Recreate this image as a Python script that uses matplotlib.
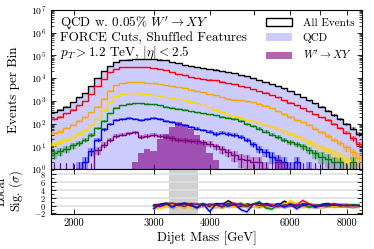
import numpy as np
import matplotlib
matplotlib.use("Agg")
import matplotlib.pyplot as plt
from matplotlib.patches import Patch
from matplotlib.ticker import LogLocator, FixedLocator, FixedFormatter, NullFormatter, MultipleLocator, NullLocator

plt.rcParams.update({
    "font.family": "serif",
    "font.serif": ["cmr10"],
    "mathtext.fontset": "cm",
    "axes.formatter.use_mathtext": True,
    "xtick.direction": "in",
    "ytick.direction": "in",
    "xtick.top": True,
    "ytick.right": True,
    "xtick.labelsize": 7.5,
    "ytick.labelsize": 7,
    "axes.linewidth": 0.8,
})

# binning of the dijet mass histogram (GeV)
edges = np.geomspace(1780, 8650, 51)
centers = np.sqrt(edges[:-1] * edges[1:])

# log10(events per bin), nan = empty bin
log_all = [2.5, 2.6, 2.75, 2.95, 3.15, 3.35, 3.65, 4.0, 4.3, 4.55,
           4.72, 4.78, 4.82, 4.84, 4.85, 4.85, 4.84, 4.82, 4.78, 4.72,
           4.65, 4.58, 4.54, 4.5, 4.46, 4.42, 4.38, 4.33, 4.28, 4.22,
           4.15, 4.08, 4.0, 3.92, 3.84, 3.75, 3.65, 3.55, 3.43, 3.3,
           3.17, 3.03, 2.89, 2.74, 2.57, 2.38, 2.2, 2.0, 1.78, 1.55]
log_red = [2.2, 2.3, 2.45, 2.6, 2.8, 3.0, 3.3, 3.65, 3.95, 4.25,
           4.42, 4.48, 4.5, 4.5, 4.5, 4.48, 4.45, 4.4, 4.34, 4.27,
           4.19, 4.12, 4.06, 4.02, 3.98, 3.94, 3.9, 3.85, 3.8, 3.74,
           3.67, 3.6, 3.52, 3.44, 3.36, 3.26, 3.15, 3.04, 2.92, 2.8,
           2.67, 2.54, 2.41, 2.28, 2.15, 2.0, 1.8, 1.6, 1.35, 1.1]
log_orange = [1.58, 1.65, 1.8, 1.95, 2.1, 2.3, 2.5, 2.75, 3.1, 3.45,
              3.7, 3.8, 3.83, 3.83, 3.82, 3.8, 3.77, 3.73, 3.69, 3.65,
              3.6, 3.56, 3.5, 3.44, 3.38, 3.31, 3.24, 3.17, 3.1, 3.06,
              3.02, 2.98, 2.94, 2.87, 2.78, 2.68, 2.55, 2.42, 2.3, 2.16,
              2.05, 1.93, 1.78, 1.62, 1.45, 1.3, 1.15, 0.95, 0.75, 0.5]
log_gold = [1.1, 1.2, 1.3, 1.4, 1.55, 1.72, 1.95, 2.2, 2.6, 2.95,
            3.2, 3.3, 3.33, 3.33, 3.32, 3.3, 3.27, 3.23, 3.18, 3.13,
            3.08, 3.03, 2.97, 2.9, 2.82, 2.73, 2.62, 2.5, 2.4, 2.32,
            2.25, 2.18, 2.1, 2.03, 1.95, 1.87, 1.78, 1.66, 1.55, 1.44,
            1.33, 1.2, 1.08, 0.95, 0.85, 0.7, 0.55, 0.4, 0.3, np.nan]
log_green = [0.7, 0.8, 0.9, 1.05, 1.15, 1.3, 1.5, 1.8, 2.1, 2.45,
             2.7, 2.82, 2.88, 2.9, 2.9, 2.88, 2.85, 2.8, 2.75, 2.7,
             2.65, 2.6, 2.55, 2.5, 2.46, 2.41, 2.36, 2.31, 2.26, 2.2,
             2.1, 2.0, 1.9, 1.78, 1.65, 1.52, 1.4, 1.3, 1.2, 1.1,
             1.0, 0.85, 0.7, 0.55, 0.45, 0.3, 0.3, np.nan, 0.3, np.nan]
log_blue = [np.nan, np.nan, np.nan, np.nan, 0.0, 0.3, 0.8, 1.3, 1.75, 2.0,
            2.15, 2.2, 2.25, 2.22, 2.17, 2.2, 2.25, 2.2, 2.12, 2.07,
            2.0, 1.93, 1.85, 1.78, 1.72, 1.65, 1.55, 1.6, 1.55, 1.5,
            1.42, 1.3, 1.1, 0.9, 0.75, 0.55, 0.4, 0.3, 0.0, 0.3,
            np.nan, 0.0, np.nan, np.nan, np.nan, np.nan, np.nan, np.nan, np.nan, np.nan]
log_purple = [np.nan, np.nan, np.nan, np.nan, np.nan, np.nan, np.nan, 0.84, 1.06, 1.3,
              1.45, 1.52, 1.58, 1.62, 1.42, 1.45, 1.5, 1.45, 1.4, 1.35,
              1.3, 1.28, 1.25, 1.22, 1.18, 1.12, 1.0, 0.88, 0.75, 0.6,
              0.45, 0.4, 0.3, 0.3, 0.0, np.nan, 0.3, 0.0, np.nan, np.nan,
              np.nan, np.nan, np.nan, np.nan, np.nan, np.nan, np.nan, np.nan, np.nan, np.nan]

# injected signal, events per bin
signal = [0, 0, 0, 0, 0, 0, 0, 0, 0, 0,
          0, 0, 0, 2, 5, 8, 6, 20, 35, 70,
          112, 90, 56, 32, 14, 5, 2.5, 0, 0, 0,
          0, 0, 0, 0, 0, 0, 0, 0, 0, 0,
          0, 0, 0, 0, 0, 0, 0, 0, 0, 0]

# local significance for bins above 3 TeV (bin 16 onwards)
sig_start = 16
sig_black = [0.1, 0.3, 0.6, 0.4, 0.2, 0.5, 0.3, 0.1, 0.4, -0.2, 0.5, 0.2, 1.2, 0.3, -0.2, 0.4, 0.1,
             -0.3, 0.5, 0.2, 0.0, 1.1, 0.3, -0.1, 0.4, 0.2, -0.4, 0.3, 0.5, 0.0, 0.3, 0.1, -0.2, 0.2]
sig_red = [0.0, 0.2, -0.1, 0.3, 0.5, 0.2, -0.2, 0.4, 0.3, 0.1, -0.3, 0.4, 0.2, 0.6, 0.1, -0.2, 0.3,
           0.5, -0.1, 0.2, 0.4, 0.0, 0.3, 0.2, 1.3, 0.4, 0.1, -0.3, 0.2, 0.5, 0.1, 0.3, -0.2, 0.1]
sig_orange = [-0.2, -0.5, 0.1, -0.3, 0.2, -0.4, 0.0, 0.3, -0.2, 0.1, -0.5, 0.2, 0.0, -0.3, 0.3, 0.1, -0.2,
              0.2, -0.4, 0.1, 0.3, -0.1, 1.0, 0.2, -0.3, 0.4, 0.0, -0.2, 0.3, -0.4, 0.1, -0.3, 0.2, -0.5]
sig_gold = [-0.4, -0.7, -0.3, 0.2, -0.5, -0.1, -0.6, 0.1, -0.3, 0.3, -0.2, -0.5, 0.2, -0.1, 0.4, -0.3, 0.0,
            -0.2, 0.3, -0.5, 0.1, 0.2, 1.3, 0.5, -0.4, 0.0, 0.3, -0.6, 0.2, -0.2, 0.4, 0.1, -0.3, 0.2]
sig_green = [-0.3, 0.0, 0.4, -0.2, 0.3, 0.5, 0.1, -0.3, 0.4, 0.0, 0.2, -0.4, 0.3, 0.1, 0.6, -0.2, 0.3,
             1.0, -0.6, -0.9, 0.2, -0.3, 0.4, 0.0, 0.3, -0.5, 0.1, 0.2, -0.2, 0.3, 0.0, 0.1, 0.2, 0.1]
sig_blue = [-0.8, 0.2, 0.5, -0.4, 0.3, 0.6, 0.0, -0.6, 0.4, -1.5, 0.3, 0.5, -0.2, 0.4, -1.0, -1.6, 0.3,
            0.6, 0.2, -0.2, 0.5, -0.4, 0.3, -0.8, 0.2, 0.4, -0.3, 0.1, 0.3, 0.0, 0.2, -0.1, 0.1, 0.0]
sig_purple = [0.2, -0.3, 0.3, 0.6, 0.1, -0.2, 0.5, 0.3, -0.1, 0.4, 0.2, -0.3, 0.5, 0.1, 0.3, -0.2, 0.4,
              0.0, 0.3, 0.1, -0.3, 0.2, 0.0, 0.3, -0.1, 0.2, 0.1, -0.2, 0.1, 0.2, 0.0, 0.1, -0.1, 0.0]

curves = [(log_all, sig_black, "black"), (log_red, sig_red, "red"),
          (log_orange, sig_orange, "orange"), (log_gold, sig_gold, "gold"),
          (log_green, sig_green, "green"), (log_blue, sig_blue, "blue"),
          (log_purple, sig_purple, "purple")]


def counts_of(logv):
    logv = np.array(logv, dtype=float)
    return np.where(np.isnan(logv), 0.0, 10 ** np.nan_to_num(logv))


fig = plt.figure(figsize=(3.74, 2.49), dpi=100)
ax = fig.add_axes([0.136, 0.321, 0.832, 0.639])
rax = fig.add_axes([0.136, 0.141, 0.832, 0.18], sharex=ax)

n_all = counts_of(log_all)
sig = np.array(signal, dtype=float)
qcd = n_all - sig

# QCD and signal fills
ax.fill_between(edges, 0.1, np.append(qcd, qcd[-1]), step="post", color="blue", alpha=0.2, lw=0, zorder=1)
ax.fill_between(edges, 0.1, np.append(np.where(sig > 0, sig, 0.1), 0.1), step="post",
                color="purple", alpha=0.6, lw=0, zorder=2)

for logv, s, c in curves:
    n = counts_of(logv)
    err = np.sqrt(n)
    lo = np.where(n > 0, np.clip(n - err, 0.05, None), 0.05)
    hi = np.where(n > 0, n + err, 0.05)
    ax.fill_between(edges, np.append(lo, lo[-1]), np.append(hi, hi[-1]), step="post",
                    color=c, alpha=0.3, lw=0, zorder=3)
    ax.stairs(n, edges, color=c, lw=1.0, baseline=None, zorder=4)
    up = np.where(n > 0, err, 1.84)
    ax.errorbar(centers, n, yerr=[np.minimum(err, n * 0.999), up], fmt="none",
                ecolor=c, elinewidth=0.8, zorder=4)
    x = centers[sig_start:]
    s = np.array(s)
    rax.fill_between(x, s - 0.5, s + 0.5, color=c, alpha=0.2, lw=0, zorder=3)
    rax.plot(x, s, color=c, lw=1.0, zorder=4)

ax.set_xscale("log")
ax.set_yscale("log")
ax.set_xlim(edges[0], edges[-1])
ax.set_ylim(1, 1e7)
ax.yaxis.set_major_locator(LogLocator(base=10, numticks=10))
ax.yaxis.set_minor_locator(LogLocator(base=10, subs=np.arange(2, 10), numticks=10))
ax.yaxis.set_minor_formatter(NullFormatter())
ax.set_ylabel("Events per Bin", fontsize=9.5)
ax.yaxis.set_label_coords(-0.1, 0.5)

xt = [2000, 3000, 4000, 5000, 6000, 7000, 8000]
xl = ["2000", "3000", "4000", "", "6000", "", "8000"]
for a in (ax, rax):
    a.xaxis.set_major_locator(FixedLocator(xt))
    a.xaxis.set_minor_locator(NullLocator())
rax.xaxis.set_major_formatter(FixedFormatter(xl))
ax.tick_params(axis="x", labelbottom=False)
ax.tick_params(which="major", length=3.5, width=0.6)
ax.tick_params(which="minor", length=2, width=0.5)

ax.text(0.03, 0.97, "QCD w. 0.05$\\%$ $W' \\rightarrow XY$\nFORCE Cuts, Shuffled Features\n"
        "$p_T > 1.2$ TeV, $|\\eta| < 2.5$", transform=ax.transAxes, ha="left", va="top",
        fontsize=9.5, linespacing=1.0)

handles = [Patch(facecolor="white", edgecolor="black", lw=1.0, label="All Events"),
           Patch(facecolor="blue", alpha=0.2, label="QCD"),
           Patch(facecolor="purple", alpha=0.6, label="$W' \\rightarrow XY$")]
ax.legend(handles=handles, loc="upper right", frameon=False, fontsize=8,
          handlelength=2.3, handleheight=0.7, labelspacing=0.5, handletextpad=1.0,
          borderaxespad=0.3)

# significance panel
rax.axvspan(3250, 3750, color="0.82", lw=0, zorder=0)
for yv in [0, 2, 4, 6, 8]:
    rax.axhline(yv, color="0.88", lw=1.2, zorder=1)
rax.set_ylim(-2.1, 9.2)
rax.yaxis.set_major_locator(MultipleLocator(2))
rax.yaxis.set_minor_locator(MultipleLocator(1))
rax.tick_params(axis="y", labelsize=6)
rax.tick_params(which="major", length=3.5, width=0.6)
rax.tick_params(which="minor", length=2, width=0.5)
rax.set_ylabel("Local\nSig. ($\\sigma$)", fontsize=9, linespacing=1.0)
rax.yaxis.set_label_coords(-0.082, 0.5)
rax.set_xlabel("Dijet Mass [GeV]", fontsize=9.5, labelpad=2)

fig.savefig("out.png", dpi=100)
